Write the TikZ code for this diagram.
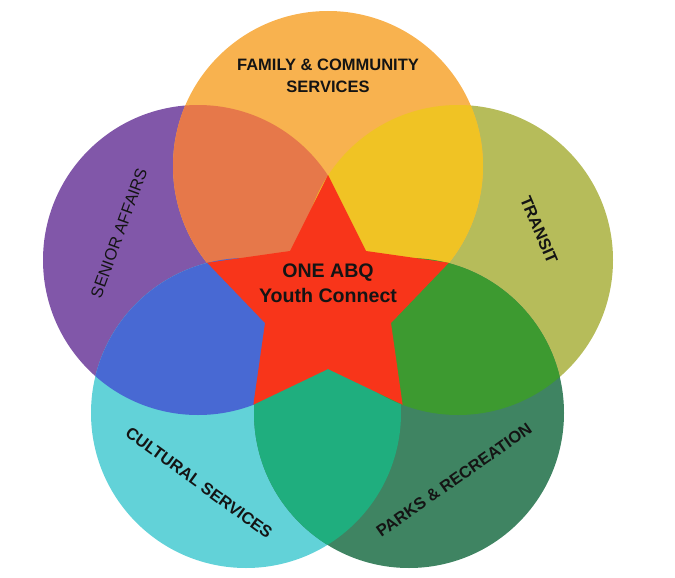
\documentclass[tikz,border=0pt]{standalone}
\usepackage{fontspec}
\setsansfont{Liberation Sans}
\usepackage{xcolor}

\definecolor{famc}{HTML}{F8B24F}
\definecolor{senc}{HTML}{8157A9}
\definecolor{trac}{HTML}{B6BC5A}
\definecolor{culc}{HTML}{62D2D8}
\definecolor{parc}{HTML}{3F8462}
\definecolor{famsen}{HTML}{E6784A}
\definecolor{famtra}{HTML}{F0C324}
\definecolor{sencul}{HTML}{4869D3}
\definecolor{trapar}{HTML}{3D9A30}
\definecolor{culpar}{HTML}{1FAE7E}
\definecolor{starc}{HTML}{F8351A}

\begin{document}
\begin{tikzpicture}[x=1pt,y=-1pt,
lbl/.style={font=\sffamily\bfseries\fontsize{16.5}{21.5}\selectfont,align=center,text=black!92},
thin/.style={font=\sffamily\fontsize{16.5}{21.5}\selectfont,text=black!92},
hub/.style={font=\sffamily\bfseries\fontsize{19.6}{25}\selectfont,align=center,text=black!92}]

\useasboundingbox (0,0) rectangle (675,578);

\coordinate (fam) at (328,166);
\coordinate (sen) at (198,260);
\coordinate (tra) at (458,260);
\coordinate (cul) at (246,413);
\coordinate (par) at (409,413);

% the five circles
\fill[senc] (sen) circle (155pt);
\fill[trac] (tra) circle (155pt);
\fill[culc] (cul) circle (155pt);
\fill[parc] (par) circle (155pt);
\fill[famc] (fam) circle (155pt);

% overlaps of neighbours
\begin{scope}
\clip (fam) circle (155pt);
\fill[famsen] (sen) circle (155pt);
\fill[famtra] (tra) circle (155pt);
\end{scope}
\begin{scope}
\clip (cul) circle (155pt);
\fill[sencul] (sen) circle (155pt);
\fill[culpar] (par) circle (155pt);
\end{scope}
\begin{scope}
\clip (par) circle (155pt);
\fill[trapar] (tra) circle (155pt);
\end{scope}

% star
\fill[starc] (328,175) -- (366,251) -- (448.8,262.8) -- (391,323) -- (402.6,404.7)
  -- (328,369) -- (253.4,404.7) -- (265,323) -- (207.2,262.8) -- (290,251) -- cycle;

\node[hub] (hubtxt) at (328,283.5) {ONE ABQ\\Youth Connect};

\node[lbl] (famtxt) at (328,75.8) {FAMILY \& COMMUNITY\\SERVICES};
\node[thin,rotate=70] (sentxt) at (119,233) {SENIOR AFFAIRS};
\node[lbl,rotate=-67] (tratxt) at (539,230) {TRANSIT};
\node[lbl,rotate=-36] (cultxt) at (199,483) {CULTURAL SERVICES};
\node[lbl,rotate=35] (partxt) at (454,480) {PARKS \& RECREATION};
\end{tikzpicture}
\end{document}
